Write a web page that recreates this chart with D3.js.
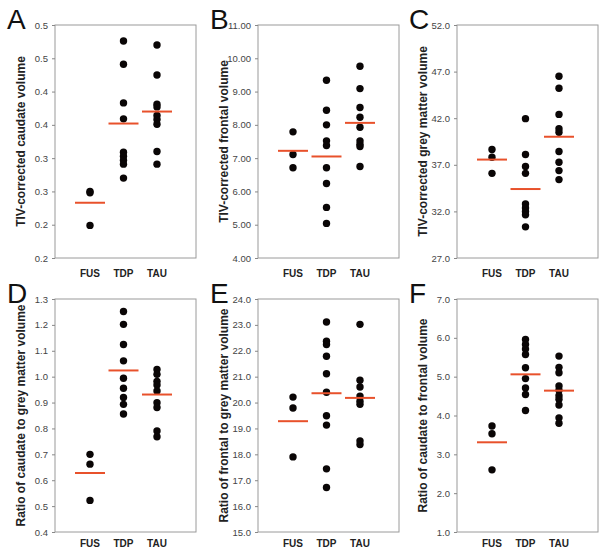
<!DOCTYPE html>
<html>
<head>
<meta charset="utf-8">
<script src="https://cdn.jsdelivr.net/npm/d3@7"></script>
<style>
  body { margin: 0; background: #fff; }
  svg { display: block; font-family: "Liberation Sans", Arial, sans-serif; }
</style>
</head>
<body>
<div id="chart"></div>
<script>
const groups = ["FUS", "TDP", "TAU"];

// A - TIV-corrected caudate volume
const caudateVol = [
  [0.300, 0.298, 0.249],
  [0.526, 0.491, 0.433, 0.409, 0.359, 0.353, 0.347, 0.341, 0.320],
  [0.520, 0.475, 0.431, 0.427, 0.414, 0.408, 0.401, 0.360, 0.341]
];
const caudateMeans = [0.283, 0.402, 0.420];
const caudateTicks = [0.20, 0.25, 0.30, 0.35, 0.40, 0.45, 0.50, 0.55];
const caudateTickLabels = ["0.2", "0.2", "0.3", "0.3", "0.4", "0.4", "0.5", "0.5"];

// B - TIV-corrected frontal volume
const frontalVol = [
  [7.79, 7.11, 6.71],
  [9.34, 8.44, 8.00, 7.52, 7.38, 6.71, 6.24, 5.52, 5.04],
  [9.76, 9.09, 8.52, 8.23, 7.93, 7.52, 7.42, 7.35, 6.75]
];
const frontalMeans = [7.22, 7.05, 8.06];
const frontalTicks = [4, 5, 6, 7, 8, 9, 10, 11];
const frontalTickLabels = ["4.00", "5.00", "6.00", "7.00", "8.00", "9.00", "10.00", "11.00"];

// C - TIV-corrected grey matter volume
const greyVol = [
  [38.64, 37.81, 36.08],
  [41.95, 38.10, 36.81, 36.08, 32.79, 32.36, 31.99, 31.63, 30.34],
  [46.50, 45.21, 42.41, 40.87, 40.50, 38.42, 37.27, 36.38, 35.41]
];
const greyMeans = [37.56, 34.40, 40.01];
const greyTicks = [27, 32, 37, 42, 47, 52];
const greyTickLabels = ["27.0", "32.0", "37.0", "42.0", "47.0", "52.0"];

// D - Ratio of caudate to grey matter volume
const caudGreyRatio = [
  [0.700, 0.662, 0.522],
  [1.252, 1.202, 1.124, 1.061, 0.994, 0.955, 0.920, 0.893, 0.856],
  [1.028, 1.009, 0.982, 0.968, 0.945, 0.899, 0.881, 0.790, 0.768]
];
const caudGreyMeans = [0.628, 1.024, 0.931];
const caudGreyTicks = [0.4, 0.5, 0.6, 0.7, 0.8, 0.9, 1.0, 1.1, 1.2, 1.3];
const caudGreyTickLabels = ["0.4", "0.5", "0.6", "0.7", "0.8", "0.9", "1.0", "1.1", "1.2", "1.3"];

// E - Ratio of frontal to grey matter volume
const frontGreyRatio = [
  [20.21, 19.79, 17.90],
  [23.11, 22.37, 22.24, 21.79, 21.11, 20.40, 19.49, 19.13, 17.44, 16.72],
  [23.02, 20.86, 20.60, 20.25, 20.05, 19.93, 18.52, 18.38]
];
const frontGreyMeans = [19.28, 20.36, 20.18];
const frontGreyTicks = [15, 16, 17, 18, 19, 20, 21, 22, 23, 24];
const frontGreyTickLabels = ["15.0", "16.0", "17.0", "18.0", "19.0", "20.0", "21.0", "22.0", "23.0", "24.0"];

// F - Ratio of caudate to frontal volume
const caudFrontRatio = [
  [3.73, 3.53, 2.60],
  [5.96, 5.83, 5.71, 5.57, 5.23, 4.95, 4.71, 4.54, 4.13],
  [5.53, 5.24, 5.10, 4.76, 4.65, 4.51, 4.42, 4.27, 3.94, 3.80]
];
const caudFrontMeans = [3.31, 5.06, 4.64];
const caudFrontTicks = [1, 2, 3, 4, 5, 6, 7];
const caudFrontTickLabels = ["1.0", "2.0", "3.0", "4.0", "5.0", "6.0", "7.0"];

const panels = [
  { letter: "A", title: "TIV-corrected caudate volume", values: caudateVol, means: caudateMeans,
    domain: [0.20, 0.55], ticks: caudateTicks, labels: caudateTickLabels, col: 0, row: 0 },
  { letter: "B", title: "TIV-corrected frontal volume", values: frontalVol, means: frontalMeans,
    domain: [4, 11], ticks: frontalTicks, labels: frontalTickLabels, col: 1, row: 0 },
  { letter: "C", title: "TIV-corrected grey matter volume", values: greyVol, means: greyMeans,
    domain: [27, 52], ticks: greyTicks, labels: greyTickLabels, col: 2, row: 0 },
  { letter: "D", title: "Ratio of caudate to grey matter volume", values: caudGreyRatio, means: caudGreyMeans,
    domain: [0.4, 1.3], ticks: caudGreyTicks, labels: caudGreyTickLabels, col: 0, row: 1 },
  { letter: "E", title: "Ratio of frontal to grey matter volume", values: frontGreyRatio, means: frontGreyMeans,
    domain: [15, 24], ticks: frontGreyTicks, labels: frontGreyTickLabels, col: 1, row: 1 },
  { letter: "F", title: "Ratio of caudate to frontal volume", values: caudFrontRatio, means: caudFrontMeans,
    domain: [1, 7], ticks: caudFrontTicks, labels: caudFrontTickLabels, col: 2, row: 1 }
];

const W = 600, H = 553;
const boxLefts = [55, 258, 457];
const boxTops = [25, 299];
const boxW = 141, boxH = 233;
const labelGap = [19, 15];

const svg = d3.select("#chart").append("svg")
  .attr("width", W)
  .attr("height", H);

panels.forEach(p => {
  const left = boxLefts[p.col], top = boxTops[p.row];
  const g = svg.append("g").attr("transform", `translate(${left},${top})`);

  const y = d3.scaleLinear().domain(p.domain).range([boxH, 0]);
  const x = d3.scalePoint().domain(groups).range([35, 102]);

  // frame
  g.append("rect")
    .attr("width", boxW)
    .attr("height", boxH)
    .attr("fill", "none")
    .attr("stroke", "#9a9a9a")
    .attr("stroke-width", 1);

  const yAxis = g.append("g")
    .call(d3.axisLeft(y)
      .tickValues(p.ticks)
      .tickFormat((d, i) => p.labels[i])
      .tickSize(3)
      .tickPadding(4));
  yAxis.select(".domain").remove();
  yAxis.selectAll("line").attr("stroke", "#888");
  yAxis.selectAll("text")
    .attr("fill", "#444")
    .style("font-size", "9.5px")
    .style("font-family", "'Liberation Sans', Arial, sans-serif");

  // group labels
  g.selectAll(".grp")
    .data(groups)
    .enter()
    .append("text")
    .attr("x", d => x(d))
    .attr("y", boxH + labelGap[p.row])
    .attr("text-anchor", "middle")
    .style("font-size", "10px")
    .style("font-weight", "bold")
    .attr("fill", "#222")
    .text(d => d);

  // dots
  groups.forEach((grp, i) => {
    g.selectAll(".dot" + i)
      .data(p.values[i])
      .enter()
      .append("circle")
      .attr("cx", x(grp))
      .attr("cy", d => y(d))
      .attr("r", 3.7)
      .attr("fill", "#0a0606");
  });

  // mean lines
  g.selectAll(".mean")
    .data(p.means)
    .enter()
    .append("line")
    .attr("x1", (d, i) => x(groups[i]) - 15)
    .attr("x2", (d, i) => x(groups[i]) + 15)
    .attr("y1", d => y(d))
    .attr("y2", d => y(d))
    .attr("stroke", "#e8512b")
    .attr("stroke-width", 2);

  // y title
  g.append("text")
    .attr("transform", `translate(-33,${boxH / 2}) rotate(-90)`)
    .attr("text-anchor", "middle")
    .attr("dominant-baseline", "middle")
    .style("font-size", "12px")
    .style("font-weight", "bold")
    .attr("fill", "#222")
    .text(p.title);

  // panel letter
  svg.append("text")
    .attr("x", left - 48)
    .attr("y", top + 4)
    .style("font-size", "28px")
    .attr("fill", "#111")
    .text(p.letter);
});
</script>
</body>
</html>
